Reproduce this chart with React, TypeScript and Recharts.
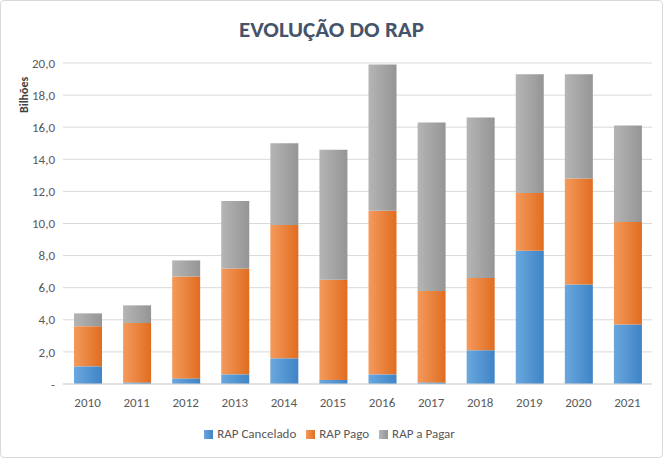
import { BarChart, Bar, XAxis, YAxis, CartesianGrid, Legend } from 'recharts';

const years = ['2010', '2011', '2012', '2013', '2014', '2015', '2016', '2017', '2018', '2019', '2020', '2021'];
const cancelado = [1.1, 0.1, 0.35, 0.6, 1.6, 0.25, 0.6, 0.1, 2.1, 8.3, 6.2, 3.7];
const pago = [2.5, 3.7, 6.35, 6.6, 8.3, 6.25, 10.2, 5.7, 4.5, 3.6, 6.6, 6.4];
const aPagar = [0.8, 1.1, 1.0, 4.2, 5.1, 8.1, 9.1, 10.5, 10.0, 7.4, 6.5, 6.0];
const yTicks = [0, 2, 4, 6, 8, 10, 12, 14, 16, 18, 20];

const data = years.map((year, i) => ({
    year,
    cancelado: cancelado[i],
    pago: pago[i],
    aPagar: aPagar[i],
}));

const fmt = (v: number) => (v === 0 ? '-' : v.toFixed(1).replace('.', ','));

export default function App() {
    return (
        <div
            style={{
                position: 'absolute',
                top: 0,
                left: 0,
                width: 661,
                height: 456,
                border: '1px solid #d9d9d9',
                borderRadius: 4,
                background: '#fff',
                fontFamily: 'Calibri, Carlito, "Liberation Sans", sans-serif',
            }}
        >
            <div
                style={{
                    position: 'absolute',
                    top: 14,
                    width: '100%',
                    textAlign: 'center',
                    fontSize: 23,
                    fontWeight: 'bold',
                    color: '#44546A',
                }}
            >
                EVOLUÇÃO DO RAP
            </div>
            <div
                style={{
                    position: 'absolute',
                    left: 16,
                    top: 112,
                    transform: 'rotate(-90deg)',
                    transformOrigin: 'left top',
                    fontSize: 12,
                    fontWeight: 'bold',
                    color: '#404040',
                }}
            >
                Bilhões
            </div>
            <BarChart
                width={661}
                height={456}
                data={data}
                margin={{ top: 62, right: 10, bottom: 16, left: 16 }}
            >
                <defs>
                    <linearGradient id="gBlue" x1="0" y1="0" x2="1" y2="0">
                        <stop offset="0%" stopColor="#6aa7de" />
                        <stop offset="100%" stopColor="#3f84c6" />
                    </linearGradient>
                    <linearGradient id="gOrange" x1="0" y1="0" x2="1" y2="0">
                        <stop offset="0%" stopColor="#f49a5c" />
                        <stop offset="100%" stopColor="#e06d20" />
                    </linearGradient>
                    <linearGradient id="gGray" x1="0" y1="0" x2="1" y2="0">
                        <stop offset="0%" stopColor="#b5b5b5" />
                        <stop offset="100%" stopColor="#959595" />
                    </linearGradient>
                </defs>
                <CartesianGrid vertical={false} stroke="#d9d9d9" />
                <XAxis
                    dataKey="year"
                    tickLine={false}
                    axisLine={{ stroke: '#d9d9d9' }}
                    tick={{ fill: '#595959', fontSize: 13 }}
                    tickMargin={8}
                />
                <YAxis
                    domain={[0, 20]}
                    ticks={yTicks}
                    tickFormatter={fmt}
                    tickLine={false}
                    axisLine={false}
                    width={46}
                    tick={{ fill: '#595959', fontSize: 13 }}
                />
                <Legend
                    verticalAlign="bottom"
                    iconType="square"
                    iconSize={9}
                    wrapperStyle={{ fontSize: 13, color: '#595959', paddingTop: 12 }}
                    formatter={(v) => <span style={{ color: '#595959' }}>{v}</span>}
                />
                <Bar dataKey="cancelado" name="RAP Cancelado" stackId="a" barSize={28} fill="url(#gBlue)" isAnimationActive={false} />
                <Bar dataKey="pago" name="RAP Pago" stackId="a" barSize={28} fill="url(#gOrange)" isAnimationActive={false} />
                <Bar dataKey="aPagar" name="RAP a Pagar" stackId="a" barSize={28} fill="url(#gGray)" isAnimationActive={false} />
            </BarChart>
        </div>
    );
}
